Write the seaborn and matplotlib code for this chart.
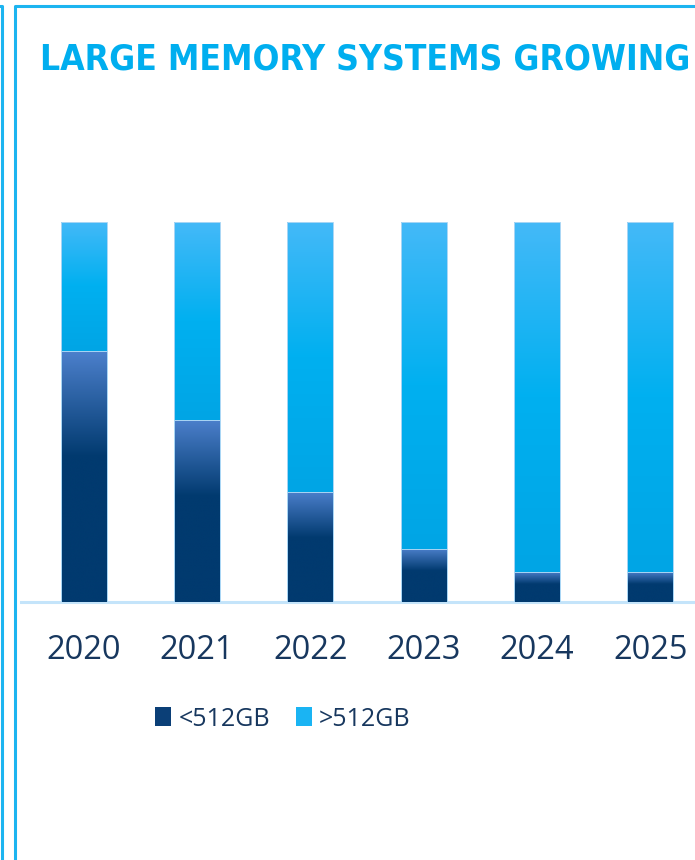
import numpy as np
import matplotlib
matplotlib.use('Agg')
import matplotlib.pyplot as plt
from matplotlib import font_manager
from matplotlib.colors import LinearSegmentedColormap
from matplotlib.patches import Patch
from matplotlib.lines import Line2D
import seaborn as sns

# data (share of systems, %)
years = ['2020', '2021', '2022', '2023', '2024', '2025']
under_512 = [66, 48, 29, 14, 8, 8]
over_512 = [34, 52, 71, 86, 92, 92]
series_names = ['<512GB', '>512GB']
title = 'LARGE MEMORY SYSTEMS GROWING'

sns.set_theme(style='white')
plt.rcParams['font.family'] = ['Open Sans', 'DejaVu Sans']

navy = '#17375E'
light_cmap = LinearSegmentedColormap.from_list('light', ['#44B9F8', '#00B0F0', '#00A5E5'])
dark_cmap = LinearSegmentedColormap.from_list('dark', [(0, '#4C80CC'), (0.42, '#013A6F'), (1, '#013A6F')])

# pick the narrowest bold face that is installed for the title
stretch_rank = {'ultra-condensed': 0, 'extra-condensed': 1, 'condensed': 2, 'semi-condensed': 3}
best = None
for f in font_manager.fontManager.ttflist:
    name = f.name.lower()
    rank = stretch_rank.get(str(f.stretch), None)
    if rank is None:
        if 'extracondensed' in f.fname.lower().replace('-', '') or 'extra condensed' in name:
            rank = 1
        elif 'condensed' in name or 'narrow' in name or 'condensed' in f.fname.lower():
            rank = 2
    if rank is None:
        continue
    w = f.weight if isinstance(f.weight, int) else 700 if 'bold' in str(f.weight) else 400
    key = (rank, abs(w - 700))
    if best is None or key < best[0]:
        best = (key, f.fname)
title_font = font_manager.FontProperties(fname=best[1]) if best else \
    font_manager.FontProperties(family='DejaVu Sans', weight='bold')

W, H = 695, 860
fig = plt.figure(figsize=(W / 100, H / 100), dpi=100)
fig.patch.set_facecolor('white')

# axes placed in pixel terms (right end runs off the cropped slide)
left_px, right_px = 20.7, 707.1
base_px, top_px = 602, 222
ax = fig.add_axes([left_px / W, (H - base_px) / H, (right_px - left_px) / W, (base_px - top_px) / H])

totals = [u + o for u, o in zip(under_512, over_512)]
sns.barplot(x=years, y=totals, color='#00B0F0', width=0.405, errorbar=None, ax=ax)
sns.barplot(x=years, y=under_512, color='#013A6F', width=0.405, errorbar=None, ax=ax)

top_bars = ax.patches[:len(years)]
low_bars = ax.patches[len(years):]
grad = np.linspace(0, 1, 256).reshape(-1, 1)
for tb, lb in zip(top_bars, low_bars):
    x0, w = lb.get_x(), lb.get_width()
    split = lb.get_height()
    im = ax.imshow(grad, cmap=light_cmap, extent=[x0, x0 + w, split, tb.get_height()],
                   origin='upper', aspect='auto', zorder=1.1, interpolation='bilinear')
    im.set_clip_path(tb)
    im = ax.imshow(grad, cmap=dark_cmap, extent=[x0, x0 + w, 0, split],
                   origin='upper', aspect='auto', zorder=1.1, interpolation='bilinear')
    im.set_clip_path(lb)
    for p in (tb, lb):
        p.set_facecolor('none')
        p.set_edgecolor('#A9D6F5')
        p.set_linewidth(0.7)
        p.set_zorder(1.2)

ax.set_xlim(-0.555, 5.5)
ax.set_ylim(0, 100)
ax.set_yticks([])
ax.set_xlabel('')
ax.set_ylabel('')
for s in ['top', 'right', 'left']:
    ax.spines[s].set_visible(False)
ax.spines['bottom'].set_color('#C4E4FA')
ax.spines['bottom'].set_linewidth(2.2)
ax.spines['bottom'].set_zorder(1.0)
ax.tick_params(axis='x', length=0, pad=23, labelsize=23.5, labelcolor=navy)

handles = [Patch(facecolor='#0B3F77', edgecolor='none'), Patch(facecolor='#1AB4F3', edgecolor='none')]
ax.legend(handles, series_names, loc='center', bbox_to_anchor=(283 / W, (H - 719) / H),
          bbox_transform=fig.transFigure, ncol=2, frameon=False, fontsize=18,
          labelcolor=navy, handlelength=0.62, handleheight=0.78, handletextpad=0.3,
          columnspacing=1.05)

# title in a narrow face, fitted to the reference width
t = fig.text(40 / W, (H - 56) / H, title, color='#00AEEF', fontproperties=title_font,
             ha='left', va='center_baseline')
t.set_fontsize(40)
fig.canvas.draw()
bb = t.get_window_extent(fig.canvas.get_renderer())
t.set_fontsize(min(40 * 650 / bb.width, 72))

# slide panel borders
border = dict(color='#1CB4F0', linewidth=2.2, solid_joinstyle='round', transform=None)
fig.add_artist(Line2D([-10, 1.5, 1.5], [H - 5.5, H - 5.5, -5], **border))
fig.add_artist(Line2D([14.5, 14.5, W + 10], [-5, H - 6, H - 6], **border))

fig.savefig('out.png', dpi=100)
